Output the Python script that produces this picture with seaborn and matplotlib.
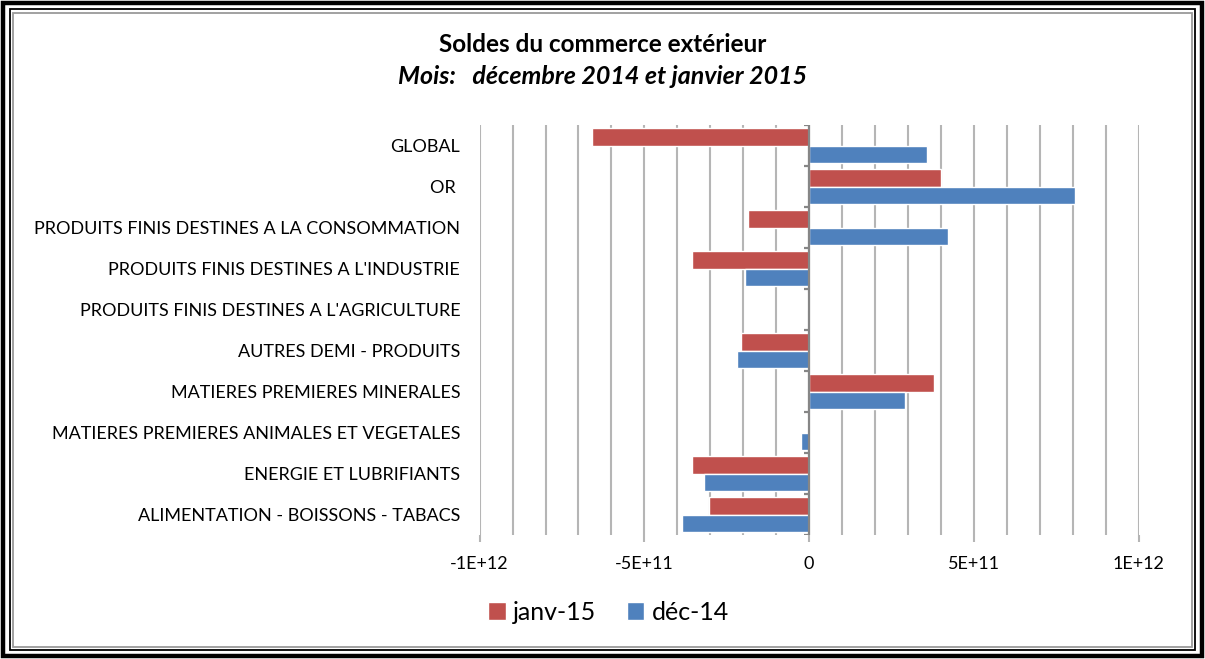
import matplotlib
matplotlib.use("Agg")
import matplotlib.pyplot as plt
from matplotlib.patches import Rectangle
import pandas as pd
import seaborn as sns

# categories, top to bottom
categories = ["GLOBAL", "OR ", "PRODUITS FINIS DESTINES A LA CONSOMMATION",
              "PRODUITS FINIS DESTINES A L'INDUSTRIE",
              "PRODUITS FINIS DESTINES A L'AGRICULTURE",
              "AUTRES DEMI - PRODUITS", "MATIERES PREMIERES MINERALES",
              "MATIERES PREMIERES ANIMALES ET VEGETALES",
              "ENERGIE ET LUBRIFIANTS", "ALIMENTATION - BOISSONS - TABACS"]
janv_15 = [-6.6e11, 4.0e11, -1.87e11, -3.57e11, -7e9, -2.08e11, 3.78e11, -6e9, -3.57e11, -3.05e11]
dec_14 = [3.57e11, 8.06e11, 4.2e11, -1.96e11, -1e9, -2.2e11, 2.9e11, -2.6e10, -3.2e11, -3.87e11]
series = ["janv-15", "déc-14"]
colors = ["#C0504D", "#4F81BD"]
xtick_vals = [-1e12, -5e11, 0, 5e11, 1e12]
xtick_labels = ["-1E+12", "-5E+11", "0", "5E+11", "1E+12"]

rows = []
for c, a, b in zip(categories, janv_15, dec_14):
    rows.append([c, series[0], a])
    rows.append([c, series[1], b])
df = pd.DataFrame(rows, columns=["cat", "serie", "val"])

sns.set_theme(style="white")
plt.rcParams["font.family"] = ["Lato", "DejaVu Sans"]
plt.rcParams["text.color"] = "black"
plt.rcParams["xtick.color"] = "black"
plt.rcParams["ytick.color"] = "black"

fig = plt.figure(figsize=(12.05, 6.59), dpi=100)
ax = fig.add_axes([0.398, 0.188, 0.547, 0.622])

sns.barplot(data=df, y="cat", x="val", hue="serie", hue_order=series,
            order=categories, palette=colors, orient="h", width=0.86,
            saturation=1, ax=ax, zorder=3)

ax.set_xlim(-1e12, 1e12)
ax.set_ylim(len(categories) - 0.5, -0.5)
ax.set_xticks(xtick_vals)
ax.set_xticklabels(xtick_labels, fontsize=13, color="black")
ax.set_xticks([x * 1e11 for x in range(-10, 11)], minor=True)
ax.grid(True, axis="x", which="both", color="#B5B5B5", lw=1.5, zorder=0)
ax.tick_params(axis="x", which="major", length=5, color="#B5B5B5", width=1.5,
               pad=10, bottom=True)
ax.tick_params(axis="x", which="minor", length=0)
ax.tick_params(axis="y", length=0, pad=14, labelsize=13, labelcolor="black")
ax.set_xlabel("")
ax.set_ylabel("")
for s in ax.spines.values():
    s.set_visible(False)

# vertical axis at zero with category separators
ax.axvline(0, color="#868686", lw=1.6, zorder=4)
ax.hlines([i + 0.5 for i in range(-1, len(categories))], -1.6e10, 0,
          color="#868686", lw=1.6, zorder=4)

fig.text(0.5, 0.933, "Soldes du commerce extérieur", ha="center", va="center",
         fontsize=17.5, fontweight="bold", color="black")
fig.text(0.5, 0.884, "Mois:   décembre 2014 et janvier 2015", ha="center",
         va="center", fontsize=18, fontweight="bold", fontstyle="italic",
         color="black")

handles, labels = ax.get_legend_handles_labels()
leg = ax.legend(handles, labels, loc="center", bbox_to_anchor=(0.505, 0.071),
                bbox_transform=fig.transFigure, ncol=2, frameon=False, fontsize=18,
                handlelength=0.7, handleheight=0.7, handletextpad=0.3,
                columnspacing=1.2)
for t in leg.get_texts():
    t.set_color("black")

# double frame around the figure
fig.add_artist(Rectangle((0.0025, 0.004), 0.995, 0.992, transform=fig.transFigure,
                         fill=False, ec="black", lw=3.2))
fig.add_artist(Rectangle((0.0079, 0.0135), 0.9842, 0.973, transform=fig.transFigure,
                         fill=False, ec="black", lw=1.3))
fig.add_artist(Rectangle((0.0105, 0.018), 0.9790, 0.963, transform=fig.transFigure,
                         fill=False, ec="#9A9A9A", lw=1.3))

fig.savefig("out.png", dpi=100)
